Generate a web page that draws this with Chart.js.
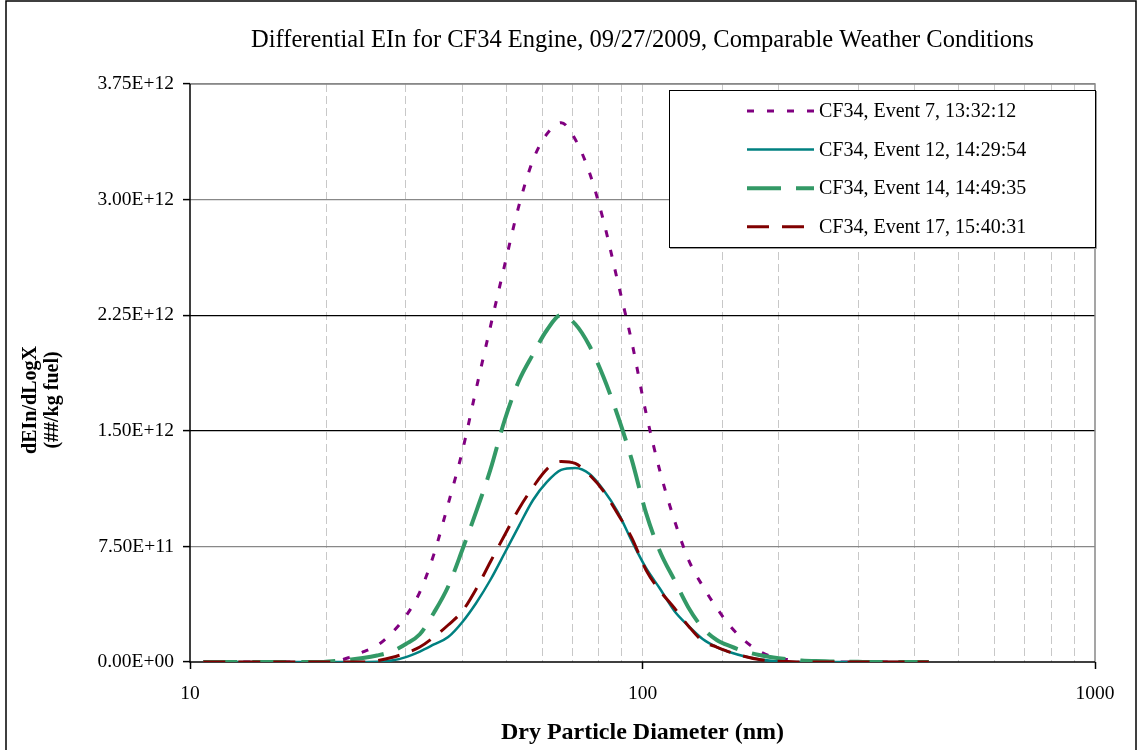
<!DOCTYPE html>
<html>
<head>
<meta charset="utf-8">
<script src="https://cdn.jsdelivr.net/npm/chart.js@4.4.1/dist/chart.umd.min.js"></script>
<style>
  html, body { margin: 0; padding: 0; background: #fff; }
  #wrap { width: 1139px; height: 750px; }
</style>
</head>
<body>
<div id="wrap"><canvas id="sizeChart" width="1139" height="750"></canvas></div>
<script>
// Particle diameters (nm), SMPS channels
const diameters = [10.7, 11.8, 12.6, 13.6, 14.6, 15.7, 16.8, 18.1, 19.5, 20.9,
    22.5, 24.1, 25.9, 27.9, 30.0, 32.2, 34.6, 37.2, 40.0, 42.9,
    46.1, 49.6, 53.3, 57.3, 61.5, 66.1, 71.0, 76.4, 82.0, 88.2,
    94.7, 101.8, 109.4, 117.6, 126.3, 135.8, 145.9, 156.8, 168.5, 181.1,
    194.6, 209.1, 224.7, 241.4, 259.5, 278.8, 299.6, 322.0, 346.0, 371.8,
    399.5, 429.4];

// dEIn/dLogX in units of 1E+12 (#/kg fuel)
const event7 = [0, 0, 0, 0, 0, 0, 0, 0, 0, 0.004,
    0.030, 0.065, 0.107, 0.188, 0.298, 0.454, 0.700, 1.025, 1.370, 1.772,
    2.173, 2.576, 2.959, 3.257, 3.426, 3.499, 3.391, 3.173, 2.862, 2.465,
    2.076, 1.616, 1.233, 0.921, 0.665, 0.493, 0.350, 0.227, 0.136, 0.071,
    0.032, 0.016, 0.006, 0.003, 0.001, 0, 0, 0, 0, 0,
    0, 0];
const event12 = [0, 0, 0, 0, 0, 0, 0, 0, 0, 0,
    0, 0, 0.001, 0.010, 0.032, 0.068, 0.114, 0.162, 0.260, 0.383,
    0.532, 0.707, 0.882, 1.051, 1.168, 1.246, 1.259, 1.220, 1.116, 0.973,
    0.785, 0.610, 0.474, 0.331, 0.234, 0.149, 0.097, 0.062, 0.036, 0.018,
    0.006, 0.002, 0, 0, 0, 0, 0, 0, 0, 0,
    0, 0];
const event14 = [0, 0, 0, 0, 0, 0, 0, 0, 0, 0.006,
    0.016, 0.026, 0.042, 0.068, 0.117, 0.180, 0.320, 0.490, 0.730, 0.976,
    1.246, 1.570, 1.823, 1.998, 2.154, 2.251, 2.193, 2.050, 1.849, 1.596,
    1.311, 0.967, 0.714, 0.532, 0.354, 0.221, 0.143, 0.101, 0.068, 0.045,
    0.029, 0.018, 0.010, 0.006, 0.004, 0.002, 0.001, 0, 0, 0,
    0, 0];
const event17 = [0, 0, 0, 0, 0, 0, 0, 0, 0, 0,
    0, 0, 0.008, 0.029, 0.058, 0.097, 0.162, 0.240, 0.331, 0.474,
    0.649, 0.824, 0.993, 1.135, 1.252, 1.301, 1.288, 1.213, 1.109, 0.960,
    0.805, 0.597, 0.461, 0.350, 0.234, 0.136, 0.097, 0.062, 0.036, 0.016,
    0.006, 0.003, 0, 0, 0, 0, 0, 0, 0, 0,
    0, 0];

const seriesLabels = ['CF34, Event 7, 13:32:12', 'CF34, Event 12, 14:29:54',
    'CF34, Event 14, 14:49:35', 'CF34, Event 17, 15:40:31'];
const yTickLabels = ['0.00E+00', '7.50E+11', '1.50E+12', '2.25E+12', '3.00E+12', '3.75E+12'];
const xTickLabels = ['10', '100', '1000'];

const serif = "'Times New Roman', 'Liberation Serif', serif";

function toPoints(values) {
    return diameters.map((d, i) => ({ x: d, y: values[i] }));
}

// white background + outer frame
const frame = {
    id: 'frame',
    beforeDraw(chart) {
        const ctx = chart.ctx;
        ctx.save();
        ctx.fillStyle = '#fff';
        ctx.fillRect(0, 0, chart.width, chart.height);
        ctx.strokeStyle = '#000';
        ctx.lineWidth = 1.5;
        ctx.strokeRect(6, 1, 1130, 760);
        ctx.restore();
    }
};

// plot area border and axis lines
const plotBorder = {
    id: 'plotBorder',
    beforeDatasetsDraw(chart) {
        const { ctx, chartArea: a } = chart;
        ctx.save();
        ctx.lineWidth = 1.5;
        ctx.strokeStyle = '#888';
        ctx.beginPath();
        ctx.moveTo(a.left, a.top); ctx.lineTo(a.right, a.top); ctx.lineTo(a.right, a.bottom);
        ctx.stroke();
        ctx.strokeStyle = '#000';
        ctx.beginPath();
        ctx.moveTo(a.left, a.top); ctx.lineTo(a.left, a.bottom); ctx.lineTo(a.right, a.bottom);
        ctx.stroke();
        ctx.restore();
    }
};

// y axis title, two bold lines
const yTitle = {
    id: 'yTitle',
    afterDraw(chart) {
        const ctx = chart.ctx;
        const cy = 400;
        ctx.save();
        ctx.fillStyle = '#000';
        ctx.font = 'bold 20px ' + serif;
        ctx.textAlign = 'center';
        ctx.textBaseline = 'middle';
        [['dEIn/dLogX', 31], ['(##/kg fuel)', 53]].forEach(([txt, x]) => {
            ctx.save();
            ctx.translate(x, cy);
            ctx.rotate(-Math.PI / 2);
            ctx.fillText(txt, 0, 0);
            ctx.restore();
        });
        ctx.restore();
    }
};

// legend box in the upper right of the plot
const legendBox = {
    id: 'legendBox',
    afterDraw(chart) {
        const ctx = chart.ctx;
        ctx.save();
        ctx.fillStyle = '#fff';
        ctx.fillRect(669, 90, 427, 158);
        ctx.strokeStyle = '#999';
        ctx.lineWidth = 1;
        ctx.beginPath();
        ctx.moveTo(1096.5, 91); ctx.lineTo(1096.5, 248.5); ctx.lineTo(670, 248.5);
        ctx.stroke();
        ctx.strokeStyle = '#000';
        ctx.strokeRect(669.5, 90.5, 426, 157);
        chart.data.datasets.forEach((ds, i) => {
            const y = 111 + i * 38.6;
            ctx.strokeStyle = ds.borderColor;
            ctx.lineWidth = ds.borderWidth;
            ctx.setLineDash(ds.borderDash || []);
            ctx.beginPath();
            ctx.moveTo(747, y);
            ctx.lineTo(814, y);
            ctx.stroke();
            ctx.setLineDash([]);
            ctx.fillStyle = '#000';
            ctx.font = '20px ' + serif;
            ctx.textAlign = 'left';
            ctx.textBaseline = 'middle';
            ctx.fillText(ds.label, 819, y + 1);
        });
        ctx.restore();
    }
};

Chart.defaults.color = '#000';
Chart.defaults.font.family = serif;

const ctx = document.getElementById('sizeChart').getContext('2d');
new Chart(ctx, {
    type: 'line',
    data: {
        datasets: [
            {
                label: seriesLabels[0], data: toPoints(event7),
                borderColor: '#800080', borderWidth: 3, borderDash: [7, 13], order: 3
            },
            {
                label: seriesLabels[1], data: toPoints(event12),
                borderColor: '#008080', borderWidth: 2.5, borderDash: [], order: 2
            },
            {
                label: seriesLabels[2], data: toPoints(event14),
                borderColor: '#339966', borderWidth: 4, borderDash: [34, 15], order: 1
            },
            {
                label: seriesLabels[3], data: toPoints(event17),
                borderColor: '#800000', borderWidth: 3, borderDash: [22, 13], order: 0
            }
        ]
    },
    options: {
        responsive: false,
        animation: false,
        devicePixelRatio: 1,
        layout: { padding: { left: 0, right: 44, top: 0, bottom: 0 } },
        elements: {
            point: { radius: 0 },
            line: { cubicInterpolationMode: 'monotone', fill: false }
        },
        plugins: {
            legend: { display: false },
            tooltip: { enabled: false },
            title: {
                display: true,
                fullSize: false,
                text: 'Differential EIn for CF34 Engine, 09/27/2009, Comparable Weather Conditions',
                font: { size: 24.5, weight: 'normal', family: serif },
                color: '#000',
                padding: { top: 26, bottom: 28.6 }
            }
        },
        scales: {
            x: {
                type: 'logarithmic',
                min: 10,
                max: 1000,
                afterFit: (scale) => { scale.height = 88; },
                border: { display: false, dash: [8, 4] },
                grid: {
                    color: (c) => (c.tick && (c.tick.value === 10 || c.tick.value === 1000)) ? 'rgba(0,0,0,0)' : '#c8c8c8',
                    lineWidth: 1,
                    drawTicks: true,
                    tickLength: 7,
                    tickColor: (c) => (c.tick && xTickLabels.includes(String(c.tick.value))) ? '#000' : 'rgba(0,0,0,0)',
                    tickWidth: 1.5
                },
                ticks: {
                    autoSkip: false,
                    maxRotation: 0,
                    padding: 13,
                    font: { size: 19.5, family: serif },
                    color: '#000',
                    callback: (value) => xTickLabels.includes(String(value)) ? String(value) : ''
                },
                title: {
                    display: true,
                    text: 'Dry Particle Diameter (nm)',
                    font: { size: 24, weight: 'bold', family: serif },
                    color: '#000',
                    padding: { top: 0, bottom: 3 }
                }
            },
            y: {
                min: 0,
                max: 3.75,
                afterFit: (scale) => { scale.width = 190; },
                border: { display: false },
                grid: {
                    color: (c) => {
                        const v = c.tick ? Math.round(c.tick.value * 100) : -1;
                        if (v === 0) return 'rgba(0,0,0,0)';
                        if (v === 225 || v === 150) return '#000';
                        return '#888';
                    },
                    lineWidth: 1.2,
                    drawTicks: true,
                    tickLength: 7,
                    tickColor: '#000',
                    tickWidth: 1.5
                },
                ticks: {
                    stepSize: 0.75,
                    padding: 9,
                    font: { size: 19.5, family: serif },
                    color: '#000',
                    callback: (value, index) => yTickLabels[index]
                }
            }
        }
    },
    plugins: [frame, plotBorder, yTitle, legendBox]
});
</script>
</body>
</html>
